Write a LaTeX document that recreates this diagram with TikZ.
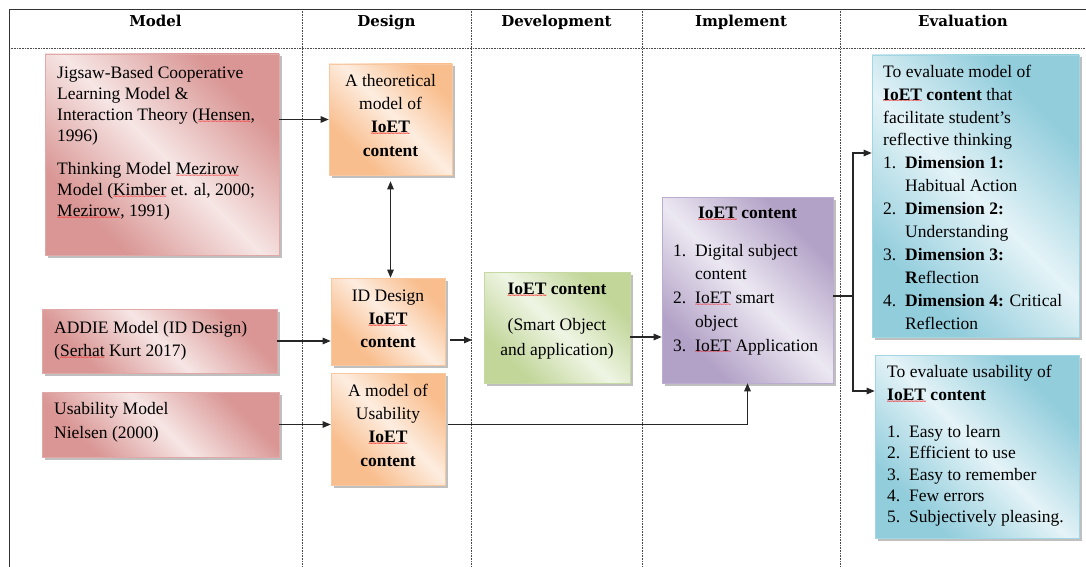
\documentclass[tikz,border=0pt]{standalone}
\usepackage{fontspec}
\setmainfont{Liberation Serif}
\newfontfamily\hdfont{DejaVu Serif}
\newfontfamily\wavefnt{DejaVu Sans}
\usetikzlibrary{arrows.meta,shadows,calc}
\newcommand\redsq[1]{\setbox0=\hbox{#1}\leavevmode\rlap{\textcolor{red}{\lower2.8pt\hbox to \wd0{\xleaders\hbox{\wavefnt\fontsize{6}{6}\selectfont\kern-0.6pt\char"223C\kern-0.6pt}\hfil}}}\box0\relax}
\newcommand\tstrut{\rule{0pt}{13pt}}
\newcommand\lnum[1]{\makebox[22pt][l]{#1}}
\newcommand\lcont{\hspace*{22pt}}
\definecolor{pinkD}{HTML}{D99694}\definecolor{pinkL}{HTML}{F6E6E5}\definecolor{pinkB}{HTML}{E0A8A6}
\definecolor{oranD}{HTML}{F9BE8E}\definecolor{oranL}{HTML}{FDEDE0}\definecolor{oranB}{HTML}{F8C9A0}
\definecolor{grenD}{HTML}{C2D69A}\definecolor{grenL}{HTML}{EFF5E4}\definecolor{grenB}{HTML}{C6D9A2}
\definecolor{purpD}{HTML}{B3A2C7}\definecolor{purpL}{HTML}{ECE8F2}\definecolor{purpB}{HTML}{BBADCF}
\definecolor{blueD}{HTML}{92CDDC}\definecolor{blueL}{HTML}{E4F3F7}\definecolor{blueB}{HTML}{A4D5E2}
\pgfdeclarehorizontalshading{pinkS}{100bp}{color(0bp)=(pinkD); color(28bp)=(pinkD); color(50bp)=(pinkL); color(72bp)=(pinkD); color(100bp)=(pinkD)}
\pgfdeclarehorizontalshading{oranS}{100bp}{color(0bp)=(oranD); color(30bp)=(oranD); color(52bp)=(oranL); color(74bp)=(oranD); color(100bp)=(oranD)}
\pgfdeclarehorizontalshading{grenS}{100bp}{color(0bp)=(grenD); color(28bp)=(grenD); color(50bp)=(grenL); color(72bp)=(grenD); color(100bp)=(grenD)}
\pgfdeclarehorizontalshading{purpS}{100bp}{color(0bp)=(purpD); color(28bp)=(purpD); color(50bp)=(purpL); color(72bp)=(purpD); color(100bp)=(purpD)}
\pgfdeclarehorizontalshading{blueS}{100bp}{color(0bp)=(blueD); color(28bp)=(blueD); color(50bp)=(blueL); color(72bp)=(blueD); color(100bp)=(blueD)}
\begin{document}
\begin{tikzpicture}[x=1pt,y=-1pt,
  box/.style={draw=#1B, line width=0.6pt, shade, shading=#1S, shading angle=45,
    drop shadow={shadow xshift=2.5pt, shadow yshift=-2.5pt, fill=black!55, opacity=0.45},
    inner sep=0, anchor=center},
  body/.style={font=\fontsize{17.5}{23.3}\selectfont},
  txt/.style={body, inner sep=0, align=left, anchor=north west},
  ctxt/.style={body, inner sep=0, align=center, anchor=north},
  hd/.style={font=\hdfont\bfseries\fontsize{15}{18}\selectfont, anchor=base, inner sep=0},
  frame/.style={draw=black!80, line width=1.4pt},
  dotl/.style={draw=black!70, line width=0.7pt, dash pattern=on 0.8pt off 0.8pt},
  ln/.style={draw=black!85, line width=1.1pt},
  arr/.style={ln, -{Triangle[length=8pt,width=6.5pt]}},
  arrb/.style={ln, {Triangle[length=8pt,width=6.5pt]}-{Triangle[length=8pt,width=6.5pt]}}
]
\useasboundingbox (0,0) rectangle (1086,567);
\fill[white] (0,0) rectangle (1086,567);
% table
\draw[dotl] (9,48) -- (1086,48);
\foreach \xx in {302,471,642,840} \draw[dotl] (\xx,9) -- (\xx,567);
\draw[frame] (9.5,567) -- (9.5,9.5) -- (1086,9.5);
% headers
\node[hd] (h1) at (155.5,27) {Model};
\node[hd] (h2) at (386.5,27) {Design};
\node[hd] (h3) at (556.5,27) {Development};
\node[hd] (h4) at (741,27) {Implement};
\node[hd] (h5) at (963,27) {Evaluation};
% boxes
\node[box=pink, minimum width=234, minimum height=201] (m1) at (162,154.5) {};
\node[box=pink, minimum width=235, minimum height=64] (m2) at (159.5,341) {};
\node[box=pink, minimum width=237, minimum height=65] (m3) at (160.5,424.5) {};
\node[box=oran, minimum width=123, minimum height=111] (d1) at (390.5,119.5) {};
\node[box=oran, minimum width=114, minimum height=87] (d2) at (388,321.5) {};
\node[box=oran, minimum width=114, minimum height=112] (d3) at (388,429) {};
\node[box=gren, minimum width=146, minimum height=111] (g) at (557,327.5) {};
\node[box=purp, minimum width=171, minimum height=186] (p) at (747.5,290) {};
\node[box=blue, minimum width=207, minimum height=282] (e1) at (975.5,196) {};
\node[box=blue, minimum width=204, minimum height=183] (e2) at (977,446.5) {};
% texts
\node[txt, font=\fontsize{17.5}{21}\selectfont] (tm1) at (57,65) {\tstrut Jigsaw-Based Cooperative\\
Learning Model \&\\
Interaction Theory (\redsq{Hensen},\\
1996)\\[12pt]
Thinking Model \redsq{Mezirow}\\
Model (\redsq{Kimber} et. al, 2000;\\
\redsq{Mezirow}, 1991)};
\node[txt, font=\fontsize{17.5}{23}\selectfont] (tm2) at (54,320) {\tstrut ADDIE Model (ID Design)\\(\redsq{Serhat} Kurt 2017)};
\node[txt, font=\fontsize{17.5}{24}\selectfont] (tm3) at (54,401) {\tstrut Usability Model\\Nielsen (2000)};
\node[ctxt] (td1) at (390.5,73) {\tstrut A theoretical\\model of\\\textbf{\redsq{IoET}}\\\textbf{content}};
\node[ctxt] (td2) at (388,288) {\tstrut ID Design\\\textbf{\redsq{IoET}}\\\textbf{content}};
\node[ctxt] (td3) at (388,383) {\tstrut A model of\\Usability\\\textbf{\redsq{IoET}}\\\textbf{content}};
\node[ctxt, font=\fontsize{17.5}{25}\selectfont] (tg) at (557,281) {\tstrut\textbf{\redsq{IoET} content}\\[11pt](Smart Object\\and application)};
\node[ctxt] (tpt) at (747.5,205) {\tstrut\textbf{\redsq{IoET} content}};
\node[txt, font=\fontsize{17.5}{23.7}\selectfont] (tpl) at (673,243) {\tstrut\lnum{1.}Digital subject\\
\lcont content\\
\lnum{2.}\redsq{IoET} smart\\
\lcont object\\
\lnum{3.}\redsq{IoET} Application};
\node[txt, font=\fontsize{17.5}{22.9}\selectfont] (te1) at (883,64) {\tstrut To evaluate model of\\
\textbf{\redsq{IoET} content} that\\
facilitate student’s\\
reflective thinking\\
\lnum{1.}\textbf{Dimension 1:}\\
\lcont Habitual Action\\
\lnum{2.}\textbf{Dimension 2:}\\
\lcont Understanding\\
\lnum{3.}\textbf{Dimension 3:}\\
\lcont\textbf{R}eflection\\
\lnum{4.}\textbf{Dimension 4:} Critical\\
\lcont Reflection};
\node[txt, font=\fontsize{17.5}{21.4}\selectfont] (te2) at (887,364) {\tstrut To evaluate usability of\\[1.6pt]
\textbf{\redsq{IoET} content}\\[15.6pt]
\lnum{1.}Easy to learn\\
\lnum{2.}Efficient to use\\
\lnum{3.}Easy to remember\\
\lnum{4.}Few errors\\
\lnum{5.}Subjectively pleasing.};
% connectors
\coordinate (c1) at (472,340);
\coordinate (c2) at (646,337);
\coordinate (jn) at (853,296);
\coordinate (y1) at (0,153);
\coordinate (y2) at (0,391);
\coordinate (t1) at (e1.west |- y1);
\coordinate (t2) at (e2.west |- y2);
\draw[arr] (d1.west -| m1.east) -- (d1.west);
\draw[arr] (m2.east) -- (m2.east -| d2.west);
\draw[arr] (m3.east) -- (m3.east -| d3.west);
\draw[arrb, shorten <=6pt] (d1.south) -- (d1.south |- d2.north);
\draw[arr, shorten <=5pt] (c1 -| d2.east) -- (c1);
\draw[arr] (c2 -| g.east) -- (c2 -| p.west);
\draw[arr, shorten <=3pt] (m3.east -| d3.east) -| (p.south);
\draw[ln] (jn -| p.east) -- (jn);
\draw[arr] (jn) |- (t1);
\draw[arr] (jn) |- (t2);
\end{tikzpicture}
\end{document}
